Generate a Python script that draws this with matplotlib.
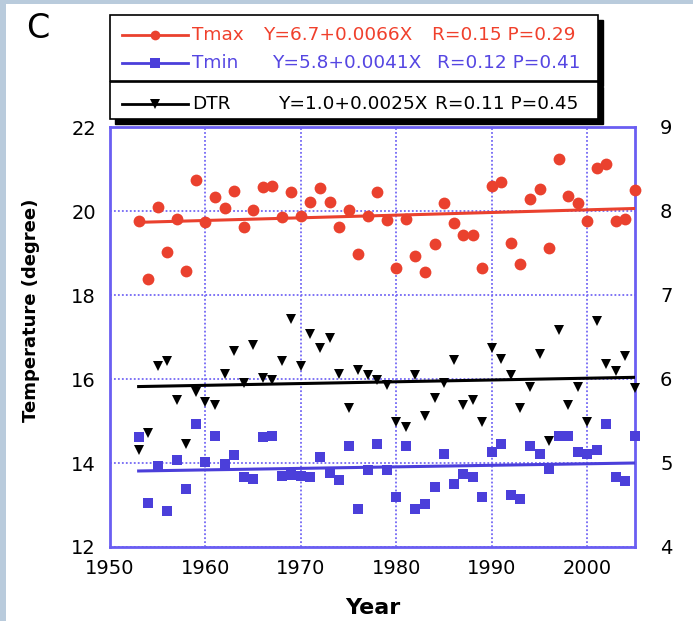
import numpy as np
import matplotlib
matplotlib.use("Agg")
import matplotlib.pyplot as plt
from matplotlib.patches import Rectangle
from matplotlib.lines import Line2D

# ---------------- data ----------------
years = list(range(1953, 2006))

tmax = [19.77, 18.37, 20.09, 19.02, 19.82, 18.57, 20.74, 19.74, 20.33, 20.06,
        20.48, 19.61, 20.02, 20.58, 20.60, 19.86, 20.45, 19.88, 20.21, 20.54,
        20.21, 19.62, 20.02, 18.97, 19.88, 20.46, 19.78, 18.64, 19.82, 18.94,
        18.54, 19.21, 20.18, 19.71, 19.42, 19.42, 18.64, 20.60, 20.70, 19.24,
        18.74, 20.28, 20.52, 19.12, 21.23, 20.35, 20.18, 19.76, 21.02, 21.12,
        19.76, 19.80, 20.50]

tmin = [14.62, 13.04, 13.94, 12.86, 14.08, 13.38, 14.92, 14.02, 14.64, 13.98,
        14.18, 13.66, 13.62, 14.62, 14.64, 13.70, 13.72, 13.70, 13.66, 14.14,
        13.76, 13.60, 14.40, 12.90, 13.84, 14.46, 13.84, 13.18, 14.40, 12.90,
        13.02, 13.44, 14.22, 13.50, 13.74, 13.66, 13.20, 14.26, 14.46, 13.24,
        13.14, 14.40, 14.22, 13.86, 14.64, 14.64, 14.26, 14.22, 14.30, 14.92,
        13.66, 13.56, 14.64]

# DTR on the right axis (degree)
dtr = [5.16, 5.36, 6.15, 6.21, 5.75, 5.23, 5.85, 5.73, 5.69, 6.06,
       6.33, 5.95, 6.41, 6.01, 5.99, 6.22, 6.71, 6.15, 6.54, 6.37,
       6.49, 6.06, 5.66, 6.11, 6.05, 5.99, 5.93, 5.49, 5.43, 6.05,
       5.56, 5.77, 5.95, 6.23, 5.69, 5.75, 5.49, 6.37, 6.24, 6.05,
       5.66, 5.90, 6.30, 5.26, 6.58, 5.69, 5.90, 5.49, 6.69, 6.18,
       6.09, 6.27, 5.89]

trend_years = [1953, 2005]
tmax_trend = [19.73, 20.06]
tmin_trend = [13.81, 14.00]
dtr_trend = [5.91, 6.02]

series_names = ["Tmax", "Tmin", "DTR"]
equations = ["Y=6.7+0.0066X", "Y=5.8+0.0041X", "Y=1.0+0.0025X"]
stats = ["R=0.15 P=0.29", "R=0.12 P=0.41", "R=0.11 P=0.45"]

x_ticks = [1950, 1960, 1970, 1980, 1990, 2000]
y_ticks = [12, 14, 16, 18, 20, 22]
y2_ticks = [4, 5, 6, 7, 8, 9]

# ---------------- style ----------------
RED = "#ea412e"
BLUE = "#4b3fda"
SPINE = "#6a5ef2"
GRID = "#7468f4"
W, H = 693, 621

def fx(px):
    return px / W

def fy(py):
    return 1 - py / H

fig = plt.figure(figsize=(W / 100, H / 100), dpi=100)
fig.patch.set_facecolor("#b9cbdc")
fig.patches.append(Rectangle((fx(6), 0), 1 - fx(6), fy(4), transform=fig.transFigure,
                             facecolor="white", edgecolor="none", zorder=-10))

ax = fig.add_axes([fx(110), fy(547), fx(635) - fx(110), fy(127) - fy(547)])
ax.set_xlim(1950, 2005)
ax.set_ylim(12, 22)
ax.set_xticks(x_ticks)
ax.set_yticks(y_ticks)
ax.grid(True, color=GRID, linestyle=(0, (1, 1.2)), linewidth=1.3)
ax.set_axisbelow(True)
for s in ax.spines.values():
    s.set_color(SPINE)
    s.set_linewidth(2)
ax.tick_params(axis="x", length=0, pad=9, labelsize=14)
ax.tick_params(axis="y", length=0, pad=10, labelsize=14)

ax2 = ax.twinx()
ax2.set_ylim(4, 9)
ax2.set_yticks(y2_ticks)
ax2.tick_params(axis="y", length=0, pad=18, labelsize=14)
for s in ax2.spines.values():
    s.set_visible(False)

ax.plot(years, tmax, linestyle="none", marker="o", markersize=8.5,
        color=RED, markeredgewidth=0, zorder=3, clip_on=False)
ax.plot(trend_years, tmax_trend, color=RED, linewidth=2.2, zorder=3)

ax.plot(years, tmin, linestyle="none", marker="s", markersize=7.5,
        color=BLUE, markeredgewidth=0, zorder=3, clip_on=False)
ax.plot(trend_years, tmin_trend, color=BLUE, linewidth=2.2, zorder=3)

ax2.plot(years, dtr, linestyle="none", marker="v", markersize=7.5,
         color="black", markeredgewidth=0, zorder=3, clip_on=False)
ax2.plot(trend_years, dtr_trend, color="black", linewidth=2.2, zorder=3)

ax.set_xlabel("Year", fontsize=16, fontweight="bold", labelpad=14)
fig.text(fx(31), fy(310), "Temperature (degree)", rotation=90, fontsize=13,
         fontweight="bold", ha="center", va="center")
fig.text(fx(38), fy(38), "C", fontsize=24, ha="center", va="baseline")

# ---------------- legend boxes ----------------
def box(x0, y0, x1, y1):
    fig.patches.append(Rectangle((fx(x0 + 5), fy(y1 + 5)), fx(x1) - fx(x0), fy(y0) - fy(y1),
                                 transform=fig.transFigure, facecolor="black",
                                 edgecolor="black", zorder=5))
    fig.patches.append(Rectangle((fx(x0), fy(y1)), fx(x1) - fx(x0), fy(y0) - fy(y1),
                                 transform=fig.transFigure, facecolor="white",
                                 edgecolor="black", linewidth=1.2, zorder=6))

box(110, 15, 598, 81)
box(110, 82, 598, 119)

row_y = [35, 63, 104]
colors = [RED, BLUE, "black"]
text_colors = ["#f0402c", "#5546e2", "black"]
markers = ["o", "s", "v"]
eq_x = [263, 272, 278]
st_x = [432, 437, 435]
for i in range(3):
    fig.add_artist(Line2D([fx(122), fx(188)], [fy(row_y[i]), fy(row_y[i])],
                          transform=fig.transFigure, color=colors[i], linewidth=2,
                          marker=None, zorder=7))
    fig.add_artist(Line2D([fx(155)], [fy(row_y[i])], transform=fig.transFigure,
                          color=colors[i], marker=markers[i], markersize=7,
                          markeredgewidth=0, linestyle="none", zorder=8))
    fig.text(fx(192), fy(row_y[i]), series_names[i], color=text_colors[i], fontsize=13.3,
             ha="left", va="center", zorder=8)
    fig.text(fx(eq_x[i]), fy(row_y[i]), equations[i], color=text_colors[i], fontsize=13.3,
             ha="left", va="center", zorder=8)
    fig.text(fx(st_x[i]), fy(row_y[i]), stats[i], color=text_colors[i], fontsize=13.3,
             ha="left", va="center", zorder=8)

fig.savefig("out.png", dpi=100, facecolor=fig.get_facecolor())
